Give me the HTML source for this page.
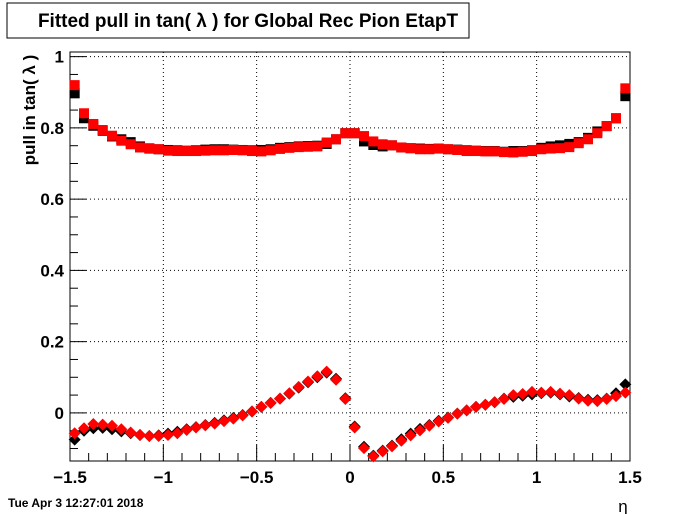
<!DOCTYPE html>
<html><head><meta charset="utf-8"><style>
body{margin:0;background:#fff;}
svg{display:block;font-family:"Liberation Sans",sans-serif;}
</style></head><body>
<svg id="chart" width="700" height="514" viewBox="0 0 700 514">
<rect x="0" y="0" width="700" height="514" fill="#fff"/>
<g>
<rect x="7" y="3" width="462" height="35" fill="#fff" stroke="#000" stroke-width="1"/>
<text x="248" y="27" text-anchor="middle" font-size="19" font-weight="bold">Fitted pull in tan( λ ) for Global Rec Pion EtapT</text>
</g>
<g id="axes"></g>
<g id="grid"></g>
<g id="marks"></g>
<text x="0" y="0" transform="translate(35,110) rotate(-90)" text-anchor="middle" font-size="17" font-weight="bold">pull in tan( λ )</text>
<text x="623" y="512" text-anchor="middle" font-size="17">η</text>
<text x="8" y="507" font-size="12" font-weight="bold">Tue Apr  3 12:27:01 2018</text>
</svg>
<script>
const xTicks = [-1.5, -1, -0.5, 0, 0.5, 1, 1.5];
const xTickLabels = ["\u22121.5", "\u22121", "\u22120.5", "0", "0.5", "1", "1.5"];
const yTicks = [0, 0.2, 0.4, 0.6, 0.8, 1];
const yTickLabels = ["0", "0.2", "0.4", "0.6", "0.8", "1"];
const binLow = -1.5, binWidth = 0.05;
const topRed = [0.920,0.841,0.811,0.794,0.778,0.764,0.754,0.745,0.743,0.740,0.736,0.735,0.735,0.735,0.736,0.737,0.737,0.738,0.737,0.735,0.734,0.737,0.741,0.744,0.746,0.747,0.748,0.759,0.768,0.785,0.785,0.777,0.762,0.754,0.751,0.745,0.743,0.740,0.740,0.742,0.740,0.738,0.735,0.735,0.734,0.734,0.732,0.731,0.733,0.735,0.740,0.742,0.743,0.746,0.757,0.768,0.785,0.805,0.827,0.911];
const topBlack = [0.897,0.827,0.806,0.792,0.776,0.768,0.760,0.748,0.742,0.740,0.738,0.737,0.736,0.737,0.739,0.740,0.740,0.739,0.738,0.737,0.738,0.740,0.744,0.746,0.748,0.749,0.750,0.755,0.768,0.785,0.785,0.762,0.752,0.748,0.751,0.745,0.743,0.742,0.741,0.742,0.740,0.739,0.737,0.736,0.735,0.735,0.733,0.735,0.735,0.737,0.744,0.748,0.751,0.755,0.760,0.772,0.790,0.805,0.827,0.889];
const botRed = [-0.057,-0.043,-0.031,-0.033,-0.036,-0.046,-0.055,-0.062,-0.065,-0.065,-0.062,-0.057,-0.048,-0.041,-0.035,-0.030,-0.023,-0.016,-0.007,0.004,0.017,0.028,0.040,0.055,0.073,0.088,0.103,0.116,0.093,0.039,-0.041,-0.099,-0.122,-0.108,-0.094,-0.078,-0.063,-0.049,-0.036,-0.024,-0.014,-0.002,0.007,0.017,0.023,0.030,0.039,0.050,0.053,0.059,0.057,0.059,0.054,0.050,0.040,0.034,0.033,0.039,0.047,0.057];
const botBlack = [-0.075,-0.050,-0.043,-0.042,-0.046,-0.052,-0.057,-0.062,-0.065,-0.063,-0.058,-0.053,-0.046,-0.040,-0.034,-0.028,-0.021,-0.014,-0.006,0.004,0.017,0.028,0.040,0.054,0.071,0.086,0.100,0.113,0.096,0.041,-0.038,-0.095,-0.120,-0.106,-0.092,-0.074,-0.058,-0.045,-0.034,-0.022,-0.013,-0.002,0.007,0.017,0.023,0.030,0.040,0.045,0.048,0.052,0.055,0.057,0.052,0.046,0.042,0.037,0.036,0.040,0.055,0.080];

const NS = "http://www.w3.org/2000/svg";
const L = 70, R = 630, T = 52, B = 461;
const XMIN = -1.5, XMAX = 1.5, YMIN = -0.135, YMAX = 1.013;
function xs(v){ return L + (v - XMIN) / (XMAX - XMIN) * (R - L); }
function ys(v){ return B - (v - YMIN) / (YMAX - YMIN) * (B - T); }
function mk(tag, attrs, parent){ const e = document.createElementNS(NS, tag); for (const k in attrs) e.setAttribute(k, attrs[k]); parent.appendChild(e); return e; }

const grid = document.getElementById('grid');
const axes = document.getElementById('axes');
const marks = document.getElementById('marks');

xTicks.forEach(function(v){
  if (v > XMIN && v < XMAX) {
    const g = mk('line', {x1: xs(v), x2: xs(v), y1: T, y2: B, stroke: '#000', 'stroke-width': 1, 'stroke-dasharray': '1,3'}, grid);
    
    
  }
});
yTicks.forEach(function(v){
  const g = mk('line', {x1: L, x2: R, y1: ys(v), y2: ys(v), stroke: '#000', 'stroke-width': 1, 'stroke-dasharray': '1,3'}, grid);
  
  
});

const frame = mk('rect', {x: L, y: T, width: R - L, height: B - T, fill: 'none', stroke: '#000', 'stroke-width': 1}, axes);



for (let i = 0; i <= 30; i++) {
  const v = -1.5 + i * 0.1;
  const major = (i % 5 === 0);
  const t = mk('line', {x1: xs(v), x2: xs(v), y1: B, y2: B - (major ? 16 : 8), stroke: '#000', 'stroke-width': 1}, axes);
  
  
}
for (let i = -2; i <= 20; i++) {
  const v = i * 0.05;
  if (v < YMIN || v > YMAX) continue;
  const major = (i % 4 === 0);
  const t = mk('line', {x1: L, x2: L + (major ? 16 : 8), y1: ys(v), y2: ys(v), stroke: '#000', 'stroke-width': 1}, axes);
  
  
}
xTicks.forEach(function(v, i){
  const t = mk('text', {x: xs(v), y: 483, 'text-anchor': 'middle', 'font-size': 17, 'font-weight': 'bold'}, axes);
  t.textContent = xTickLabels[i];
  
  
});
yTicks.forEach(function(v, i){
  const t = mk('text', {x: 64, y: ys(v) + 6, 'text-anchor': 'end', 'font-size': 17, 'font-weight': 'bold'}, axes);
  t.textContent = yTickLabels[i];
  
  
});

function drawSeries(vals, color, shape, name){
  const g = mk('g', {}, marks);
  
  
  vals.forEach(function(v, i){
    const c = binLow + (i + 0.5) * binWidth;
    const cx = xs(c), cy = ys(v);
    const eb = mk('line', {x1: xs(c - binWidth / 2), x2: xs(c + binWidth / 2), y1: cy, y2: cy, stroke: color, 'stroke-width': 1}, g);
    
    
    let m;
    if (shape === 'square') {
      m = mk('rect', {x: cx - 5, y: cy - 5, width: 10, height: 10, fill: color}, g);
    } else {
      m = mk('polygon', {points: (cx) + ',' + (cy - 6) + ' ' + (cx + 6) + ',' + cy + ' ' + cx + ',' + (cy + 6) + ' ' + (cx - 6) + ',' + cy, fill: color}, g);
    }
    
    
  });
}
drawSeries(topBlack, '#000', 'square', 'series-top-black');
drawSeries(topRed, '#ff0000', 'square', 'series-top-red');
drawSeries(botBlack, '#000', 'diamond', 'series-bottom-black');
drawSeries(botRed, '#ff0000', 'diamond', 'series-bottom-red');
</script>
</body></html>
